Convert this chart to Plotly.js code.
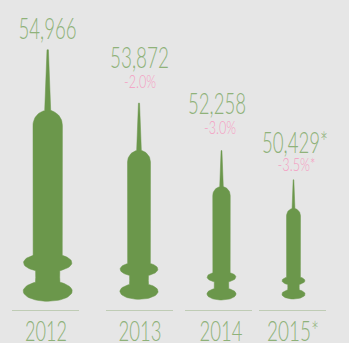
<!DOCTYPE html>
<html>
<head>
<meta charset="utf-8">
<script src="https://cdn.plot.ly/plotly-3.0.1.min.js"></script>
<style>html,body{margin:0;padding:0;background:#e6e6e6;overflow:hidden}</style>
</head>
<body>
<div id="chart" style="width:349px;height:343px"></div>
<script>
// Annual figures
const years = ['2012', '2013', '2014', '2015*'];
const values = [54966, 53872, 52258, 50429];
const changes = [null, -2.0, -3.0, -3.5];
const estimated = [false, false, false, true];
// Pictogram scale of each syringe, relative to the tallest one
const syringeScale = [1, 0.78, 0.594, 0.474];

// Layout of the four columns, in the plot's pixel-sized axis units
const W = 349, H = 343, AXIS_BOTTOM = 32;
const columnCentre = [45.5, 139.5, 218.5, 292.5];
const syringeCentre = [47.7, 139, 221.5, 293.5];
const syringeFoot = [9.7, 11.7, 11, 12];
const tickCentre = [46, 140, 221, 293];
const valueX = [47.5, 139.5, 217, 295], valueY = [279.5, 250, 204, 165];
const changeX = [0, 140, 220, 296.5], changeY = [0, 228, 182, 145];
const valueWidth = [58, 59, 58, 66], changeWidth = [0, 32, 32, 38], tickWidth = [42, 43, 43, 52];

const GREEN = '#6b974b', TEXT_GREEN = '#8fb27a', RULE = '#98b285', PINK = '#f59dc2', BG = '#e6e6e6';

// Half of an ellipse arc, from angle a0 to a1 (degrees)
function arc(cy, rx, ry, a0, a1, steps) {
  const pts = [];
  for (let i = 0; i <= steps; i++) {
    const t = (a0 + (a1 - a0) * i / steps) * Math.PI / 180;
    pts.push([rx * Math.cos(t), cy + ry * Math.sin(t)]);
  }
  return pts;
}

// Right half of the syringe silhouette for the full-size syringe, bottom to top
const halfOutline = [].concat(
  arc(10.2, 24.5, 10.2, -90, 60, 24),
  [[12, 24]],
  arc(38.6, 24.2, 9.2, -60, 53, 20),
  [[14.7, 176]],
  arc(176, 14.7, 15, 0, 78, 14),
  [[3, 191], [0.7, 251.5]]
);

function outline(i) {
  const s = syringeScale[i];
  const right = halfOutline.map(p => [syringeCentre[i] + p[0] * s, syringeFoot[i] + p[1] * s]);
  const left = halfOutline.slice().reverse().map(p => [syringeCentre[i] - p[0] * s, syringeFoot[i] + p[1] * s]);
  const all = right.concat(left);
  return { x: all.map(p => p[0]), y: all.map(p => p[1]) };
}

const traces = [];
years.forEach((yr, i) => {
  const o = outline(i);
  traces.push({
    x: o.x, y: o.y, mode: 'lines', fill: 'toself', fillcolor: GREEN,
    line: { color: GREEN, width: 0.5 }, hoverinfo: 'skip', showlegend: false, name: yr
  });
  traces.push({
    x: [columnCentre[i] - 33.5, columnCentre[i] + 33.5], y: [0, 0], mode: 'lines',
    line: { color: RULE, width: 1 }, hoverinfo: 'skip', showlegend: false, cliponaxis: false
  });
});

// Value labels
traces.push({
  x: valueX, y: valueY, mode: 'text', cliponaxis: false, showlegend: false, hoverinfo: 'skip',
  text: values.map((v, i) => v.toLocaleString('en-US') + (estimated[i] ? '*' : '')),
  textposition: 'middle center',
  textfont: { family: 'Lato, sans-serif', size: 29, color: TEXT_GREEN, weight: 300 }
});
// Year-on-year change labels
const changeIdx = changes.map((c, i) => c === null ? -1 : i).filter(i => i >= 0);
traces.push({
  x: changeIdx.map(i => changeX[i]), y: changeIdx.map(i => changeY[i]),
  mode: 'text', cliponaxis: false, showlegend: false, hoverinfo: 'skip',
  text: changeIdx.map(i => changes[i].toFixed(1) + '%' + (estimated[i] ? '*' : '')),
  textposition: 'middle center',
  textfont: { family: 'Lato, sans-serif', size: 18, color: PINK, weight: 300 }
});

const layout = {
  width: W, height: H,
  margin: { l: 0, r: 0, t: 0, b: AXIS_BOTTOM },
  paper_bgcolor: BG, plot_bgcolor: BG, showlegend: false,
  xaxis: {
    range: [0, W], showgrid: false, zeroline: false, showline: false, fixedrange: true,
    tickmode: 'array', tickvals: tickCentre, ticktext: years, ticks: '', ticklen: 0,
    ticklabelstandoff: 1, tickangle: 0, automargin: false,
    tickfont: { family: 'Lato, sans-serif', size: 28, color: TEXT_GREEN, weight: 300 }
  },
  yaxis: { range: [0, H - AXIS_BOTTOM], visible: false, fixedrange: true }
};

// Tighten the light lettering to the condensed widths of the chart's typeface
function condense(nodes, widths) {
  nodes.forEach((n, i) => {
    n.setAttribute('textLength', widths[i]);
    n.setAttribute('lengthAdjust', 'spacingAndGlyphs');
  });
}

Plotly.newPlot('chart', traces, layout, { displayModeBar: false, staticPlot: true }).then(gd => {
  const groups = [...gd.querySelectorAll('.scatterlayer .trace')].filter(t => t.querySelector('.textpoint'));
  condense([...groups[0].querySelectorAll('.textpoint text')], valueWidth);
  condense([...groups[1].querySelectorAll('.textpoint text')], changeIdx.map(i => changeWidth[i]));
  condense([...gd.querySelectorAll('.xtick text')], tickWidth);
});
</script>
</body>
</html>
